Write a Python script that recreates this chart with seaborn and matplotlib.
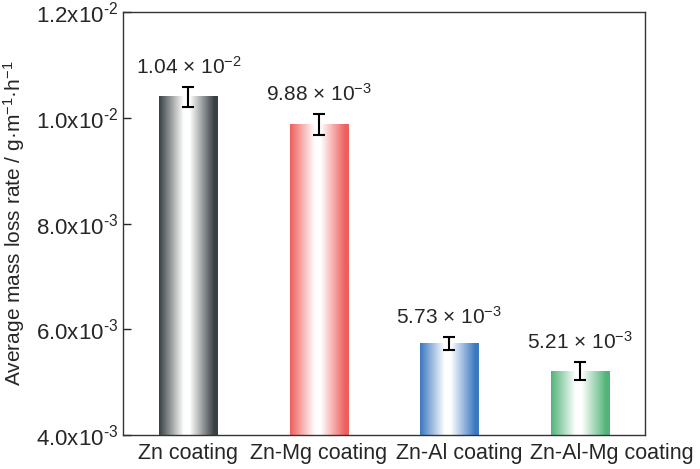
import numpy as np
import pandas as pd
import seaborn as sns
import matplotlib.pyplot as plt
from matplotlib.colors import LinearSegmentedColormap, to_rgb
from matplotlib.transforms import ScaledTranslation

# values
coatings = ["Zn coating", "Zn-Mg coating", "Zn-Al coating", "Zn-Al-Mg coating"]
rates = [1.04e-2, 9.88e-3, 5.73e-3, 5.21e-3]
errors = [0.19e-3, 0.20e-3, 0.12e-3, 0.17e-3]
rate_labels = [r"1.04 × 10$^{-2}$", r"9.88 × 10$^{-3}$", r"5.73 × 10$^{-3}$", r"5.21 × 10$^{-3}$"]
bar_colors = ["#394043", "#ee5f5d", "#3b78c0", "#52b378"]
ytick_vals = [4.0e-3, 6.0e-3, 8.0e-3, 1.0e-2, 1.2e-2]
ytick_labels = [r"4.0x10$^{\text{-}3}$", r"6.0x10$^{\text{-}3}$", r"8.0x10$^{\text{-}3}$",
                r"1.0x10$^{\text{-}2}$", r"1.2x10$^{\text{-}2}$"]

sns.set_style("white")
plt.rcParams['font.family'] = ['Liberation Sans', 'DejaVu Sans']
plt.rcParams['mathtext.fontset'] = 'custom'
plt.rcParams['mathtext.rm'] = 'Liberation Sans'
plt.rcParams['mathtext.default'] = 'regular'

df = pd.DataFrame({"coating": coatings, "rate": rates})

fig = plt.figure(figsize = (7, 4.69), dpi = 100)
ax = fig.add_axes([0.176, 0.0725, 0.745, 0.9015])

sns.barplot(data = df, x = "coating", y = "rate", ax = ax, width = 0.445,
            errorbar = None, color = "white", edgecolor = "none")

ylo, yhi = 4.0e-3, 1.2e-2

# gradient fill: colour at the edges, white a bit left of the middle
t = np.linspace(0, 1, 256)
prof = np.clip((np.abs(t - 0.47) - 0.05) / 0.42, 0, 1)
for patch, col in zip(ax.patches, bar_colors):
    x0 = patch.get_x()
    w = patch.get_width()
    h = patch.get_height()
    cmap = LinearSegmentedColormap.from_list("g", ["white", to_rgb(col)])
    ax.imshow(prof[np.newaxis, :], cmap = cmap, aspect = "auto",
              extent = [x0, x0 + w, ylo, h], zorder = 2, vmin = 0, vmax = 1)
    patch.set_facecolor("none")

xs = np.arange(len(coatings))
ax.errorbar(xs, rates, yerr = errors, fmt = "none", ecolor = "black",
            elinewidth = 1.5, capsize = 4.3, capthick = 1.5, zorder = 3)

for x, r, e, lab in zip(xs, rates, errors, rate_labels):
    ax.text(x, r + e + 0.17e-3, lab, ha = "center", va = "bottom", fontsize = 15)

ax.set_xlim(-0.5, 3.5)
ax.set_ylim(ylo, yhi)
ax.set_yticks(ytick_vals)
ax.set_yticklabels(ytick_labels, fontsize = 16)
ax.tick_params(axis = "y", direction = "in", length = 6, width = 1, left = True, pad = 4)
ax.tick_params(axis = "x", length = 0, labelsize = 15.5, pad = 6)
ax.set_xlabel("")
ax.set_ylabel(r"Average mass loss rate / g·m$^{-1}$·h$^{-1}$", fontsize = 15, labelpad = 6)

# the last two category names sit a little to the right, as in the original
shifts = [0, 0, 10, 32]
for lab, dx in zip(ax.get_xticklabels(), shifts):
    lab.set_transform(lab.get_transform() + ScaledTranslation(dx / 100, 0, fig.dpi_scale_trans))

for sp in ax.spines.values():
    sp.set_color("#333333")
    sp.set_linewidth(1.0)
    sp.set_visible(True)

fig.savefig("out.png", dpi = 100)
